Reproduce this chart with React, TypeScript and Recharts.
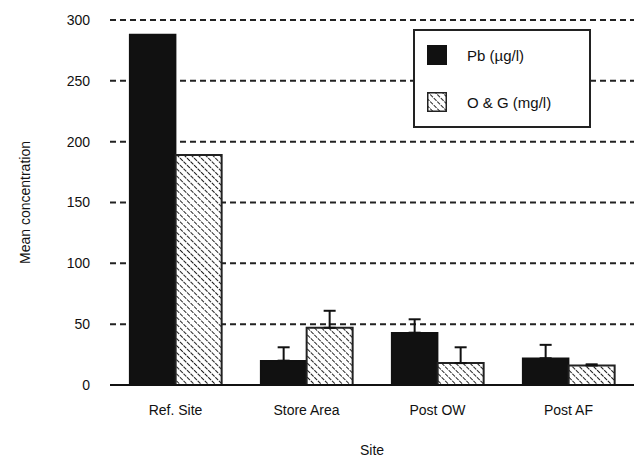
import { BarChart, Bar, XAxis, YAxis, CartesianGrid, ErrorBar, Label } from 'recharts';

const sites = ['Ref. Site', 'Store Area', 'Post OW', 'Post AF'];
const pb = [288, 20, 43, 22];
const pbErr = [0, 11, 11, 11];
const oag = [189, 47, 18, 16];
const oagErr = [0, 14, 13, 1];
const yTicks = [0, 50, 100, 150, 200, 250, 300];

// only the upper whisker is drawn; no whisker where the error is 0
const data = sites.map((site, i) => ({
  site,
  pb: pb[i],
  pbErr: pbErr[i] ? [0, pbErr[i]] : null,
  oag: oag[i],
  oagErr: oagErr[i] ? [0, oagErr[i]] : null,
}));

const FONT = '"Liberation Sans Narrow", "Liberation Sans", Arial, sans-serif';

function LegendBox() {
  return (
    <div
      style={{
        position: 'absolute',
        left: 413,
        top: 29,
        border: '2px solid #222',
        width: 178,
        height: 99,
        boxSizing: 'border-box',
        background: '#fff',
        fontFamily: FONT,
        fontSize: 15,
        color: '#111',
      }}
    >
      <div style={{ position: 'absolute', left: 12, top: 14, display: 'flex', alignItems: 'center' }}>
        <svg width={20} height={20}>
          <rect x={0} y={0} width={20} height={20} fill="#111" />
        </svg>
        <span style={{ marginLeft: 20 }}>Pb (µg/l)</span>
      </div>
      <div style={{ position: 'absolute', left: 12, top: 61, display: 'flex', alignItems: 'center' }}>
        <svg width={20} height={20}>
          <rect x={0.75} y={0.75} width={18.5} height={18.5} fill="url(#hatch)" stroke="#222" strokeWidth={1.5} />
        </svg>
        <span style={{ marginLeft: 20 }}>O &amp; G (mg/l)</span>
      </div>
    </div>
  );
}

export default function App() {
  return (
    <div style={{ position: 'absolute', left: 0, top: 0, width: 640, height: 462, background: '#fff' }}>
      <BarChart
        width={640}
        height={462}
        data={data}
        margin={{ top: 20, right: 6, bottom: 47, left: 0 }}
        barCategoryGap="15%"
        barGap={0}
      >
        <defs>
          <pattern id="hatch" width={5} height={5} patternUnits="userSpaceOnUse" patternTransform="rotate(-45)">
            <rect width={5} height={5} fill="#fff" />
            <line x1={0} y1={0} x2={0} y2={5} stroke="#222" strokeWidth={2} strokeDasharray="3 1" />
          </pattern>
        </defs>
        <CartesianGrid vertical={false} stroke="#222" strokeWidth={2} strokeDasharray="6 4" />
        <XAxis
          dataKey="site"
          tickLine={false}
          axisLine={{ stroke: '#111', strokeWidth: 2 }}
          tick={{ fontSize: 14, fill: '#111', fontFamily: FONT }}
          tickMargin={14}
        >
          <Label value="Site" position="bottom" offset={30} style={{ fontSize: 14, fill: '#111', fontFamily: FONT }} />
        </XAxis>
        <YAxis
          width={110}
          domain={[0, 300]}
          ticks={yTicks}
          axisLine={false}
          tickLine={false}
          tickMargin={14}
          tick={{ fontSize: 14, fill: '#111', fontFamily: FONT }}
        >
          <Label
            value="Mean concentration"
            angle={-90}
            position="insideLeft"
            offset={25}
            style={{ fontSize: 14, fill: '#111', fontFamily: FONT, textAnchor: 'middle' }}
          />
        </YAxis>
        <Bar dataKey="pb" name="Pb (µg/l)" fill="#111" stroke="#111" strokeWidth={1.5} isAnimationActive={false}>
          <ErrorBar dataKey="pbErr" width={6} stroke="#111" strokeWidth={2} direction="y" />
        </Bar>
        <Bar dataKey="oag" name="O & G (mg/l)" fill="url(#hatch)" stroke="#222" strokeWidth={2} isAnimationActive={false}>
          <ErrorBar dataKey="oagErr" width={6} stroke="#111" strokeWidth={2} direction="y" />
        </Bar>
      </BarChart>
      <LegendBox />
    </div>
  );
}
